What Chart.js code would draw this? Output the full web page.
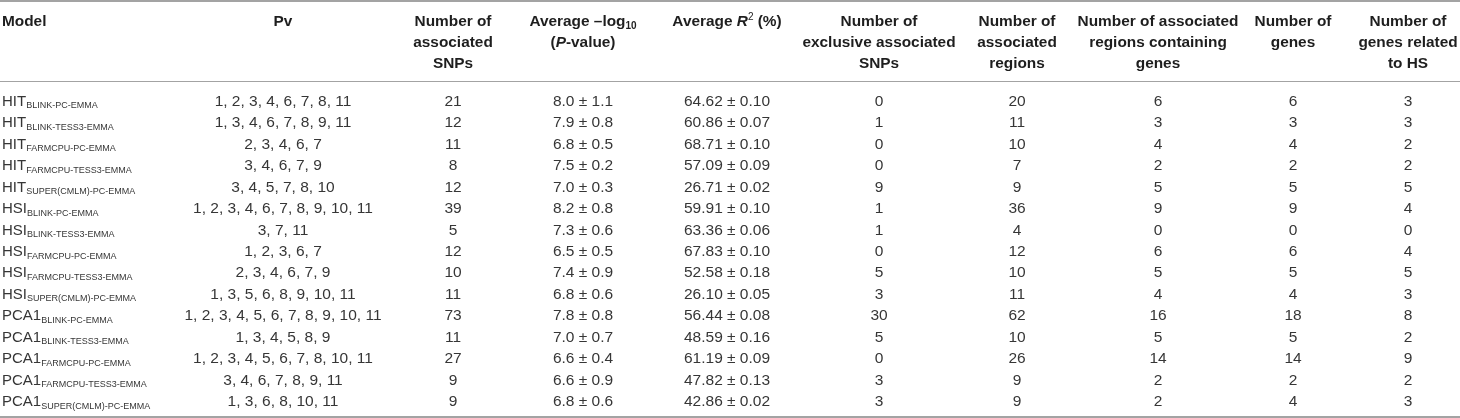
<!DOCTYPE html>
<html>
<head>
<meta charset="utf-8">
<script src="https://cdn.jsdelivr.net/npm/chart.js@4/dist/chart.umd.min.js"></script>
<style>
html,body{margin:0;padding:0;background:#fff;}
#wrap{width:1460px;height:418px;position:relative;}
</style>
</head>
<body>
<div id="wrap"><canvas id="c"></canvas></div>
<script>
// ---- data ----
const traitNames = ["HIT","HIT","HIT","HIT","HIT","HSI","HSI","HSI","HSI","HSI","PCA1","PCA1","PCA1","PCA1","PCA1"];
const methodNames = ["BLINK-PC-EMMA","BLINK-TESS3-EMMA","FARMCPU-PC-EMMA","FARMCPU-TESS3-EMMA","SUPER(CMLM)-PC-EMMA",
  "BLINK-PC-EMMA","BLINK-TESS3-EMMA","FARMCPU-PC-EMMA","FARMCPU-TESS3-EMMA","SUPER(CMLM)-PC-EMMA",
  "BLINK-PC-EMMA","BLINK-TESS3-EMMA","FARMCPU-PC-EMMA","FARMCPU-TESS3-EMMA","SUPER(CMLM)-PC-EMMA"];
const pvSets = ["1, 2, 3, 4, 6, 7, 8, 11","1, 3, 4, 6, 7, 8, 9, 11","2, 3, 4, 6, 7","3, 4, 6, 7, 9","3, 4, 5, 7, 8, 10",
  "1, 2, 3, 4, 6, 7, 8, 9, 10, 11","3, 7, 11","1, 2, 3, 6, 7","2, 3, 4, 6, 7, 9","1, 3, 5, 6, 8, 9, 10, 11",
  "1, 2, 3, 4, 5, 6, 7, 8, 9, 10, 11","1, 3, 4, 5, 8, 9","1, 2, 3, 4, 5, 6, 7, 8, 10, 11","3, 4, 6, 7, 8, 9, 11","1, 3, 6, 8, 10, 11"];
const snpCounts = [21,12,11,8,12,39,5,12,10,11,73,11,27,9,9];
const logMeans = ["8.0","7.9","6.8","7.5","7.0","8.2","7.3","6.5","7.4","6.8","7.8","7.0","6.6","6.6","6.8"];
const logSds   = ["1.1","0.8","0.5","0.2","0.3","0.8","0.6","0.5","0.9","0.6","0.8","0.7","0.4","0.9","0.6"];
const r2Means = ["64.62","60.86","68.71","57.09","26.71","59.91","63.36","67.83","52.58","26.10","56.44","48.59","61.19","47.82","42.86"];
const r2Sds   = ["0.10","0.07","0.10","0.09","0.02","0.10","0.06","0.10","0.18","0.05","0.08","0.16","0.09","0.13","0.02"];
const exclusiveSnps = [0,1,0,0,9,1,1,0,5,3,30,5,0,3,3];
const regionCounts = [20,11,10,7,9,36,4,12,10,11,62,10,26,9,9];
const regionGeneCounts = [6,3,4,2,5,9,0,6,5,4,16,5,14,2,2];
const geneCounts = [6,3,4,2,5,9,0,6,5,4,18,5,14,2,4];
const hsGeneCounts = [3,3,2,2,5,4,0,4,5,3,8,2,9,2,3];
// header labels (segments: b = bold, bi = bold italic, sub/sup = small)
const columnHeaders = [
  [[["Model","b"]]],
  [[["Pv","b"]]],
  [[["Number of","b"]],[["associated","b"]],[["SNPs","b"]]],
  [[["Average \u2013log","b"],["10","sub"]],[["(","b"],["P","bi"],["-value)","b"]]],
  [[["Average ","b"],["R","bi"],["2","sup"],[" (%)","b"]]],
  [[["Number of","b"]],[["exclusive associated","b"]],[["SNPs","b"]]],
  [[["Number of","b"]],[["associated","b"]],[["regions","b"]]],
  [[["Number of associated","b"]],[["regions containing","b"]],[["genes","b"]]],
  [[["Number of","b"]],[["genes","b"]]],
  [[["Number of","b"]],[["genes related","b"]],[["to HS","b"]]]
];
const rowKeys = traitNames.map((t,i)=>t+"_"+methodNames[i]);

// ---- layout/style ----
const FONT = "'Liberation Sans', Arial, Helvetica, sans-serif";
const colCenters = [null,283,453,583,727,879,1017,1158,1293,1408];
const styleFonts = {
  n: "15.5px "+FONT, m: "15px "+FONT, b: "bold 15.4px "+FONT, bi: "italic bold 15.4px "+FONT,
  sub: "bold 10px "+FONT, sup: "10px "+FONT, s: "9px "+FONT
};
const styleShift = {n:0,m:0,b:0,bi:0,sub:3,sup:-6,s:2.5};

function drawRich(ctx, segs, x, baseline, align, color){
  let w = 0;
  segs.forEach(s=>{ctx.font=styleFonts[s[1]]; w+=ctx.measureText(s[0]).width;});
  let cx = align==="left" ? x : x - w/2;
  ctx.fillStyle = color;
  ctx.textBaseline = "alphabetic";
  ctx.textAlign = "left";
  segs.forEach(s=>{
    ctx.font = styleFonts[s[1]];
    ctx.fillText(s[0], cx, baseline + styleShift[s[1]]);
    cx += ctx.measureText(s[0]).width;
  });
}

const tablePlugin = {
  id: "tablePlugin",
  afterDraw(chart){
    const ctx = chart.ctx;
    const ys = chart.scales.y;
    const W = chart.width;
    ctx.save();
    // rules
    ctx.fillStyle = "#a3a3a3";
    ctx.fillRect(0,0,W,2);
    ctx.fillRect(0,81,W,1);
    ctx.fillRect(0,416,W,2);
    // header
    columnHeaders.forEach((lines,ci)=>{
      lines.forEach((segs,li)=>{
        const base = 26 + li*21;
        if(ci===0) drawRich(ctx, segs, 2, base, "left", "#1e1e1e");
        else drawRich(ctx, segs, colCenters[ci], base, "center", "#1e1e1e");
      });
    });
    // body
    const color = "#363636";
    rowKeys.forEach((key,i)=>{
      const y = ys.getPixelForValue(i);
      const base = y + 6;
      drawRich(ctx, [[traitNames[i],"m"],[methodNames[i],"s"]], 2, base, "left", color);
      const cells = [
        pvSets[i], String(snpCounts[i]), logMeans[i]+" \u00b1 "+logSds[i],
        r2Means[i]+" \u00b1 "+r2Sds[i], String(exclusiveSnps[i]), String(regionCounts[i]),
        String(regionGeneCounts[i]), String(geneCounts[i]), String(hsGeneCounts[i])
      ];
      cells.forEach((t,k)=>drawRich(ctx, [[t,"n"]], colCenters[k+1], base, "center", color));
    });
    ctx.restore();
  }
};

new Chart(document.getElementById("c"), {
  type: "bar",
  data: { labels: rowKeys, datasets: [] },
  options: {
    responsive: true,
    maintainAspectRatio: false,
    animation: false,
    layout: { padding: { top: 89, bottom: 7, left: 0, right: 0 } },
    plugins: { legend: {display:false}, tooltip: {enabled:false} },
    scales: {
      y: { type: "category", labels: rowKeys, offset: true, display: false },
      x: { type: "linear", display: false, min: 0, max: 1 }
    }
  },
  plugins: [tablePlugin]
});
</script>
</body>
</html>
